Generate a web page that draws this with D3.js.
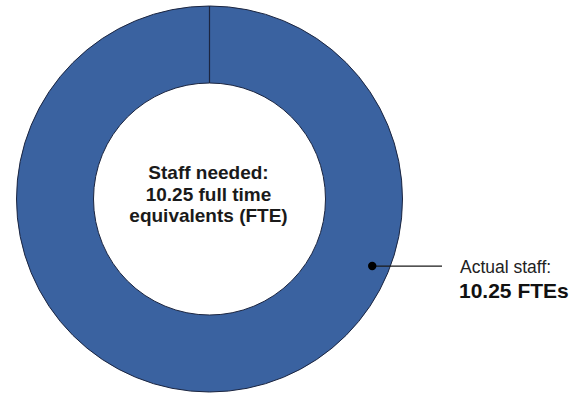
<!DOCTYPE html>
<html><head><meta charset="utf-8">
<script src="https://cdn.jsdelivr.net/npm/d3@7"></script>
<style>
html,body{margin:0;padding:0;background:#fff;}
svg{display:block;font-family:"Liberation Sans",Arial,sans-serif;}
</style></head>
<body><svg id="c" width="579" height="398"></svg>
<script>
const categories = ["Actual staff"];
const values = [10.25];
const neededFTE = 10.25;
const centerLines = ["Staff needed:", "10.25 full time", "equivalents (FTE)"];
const labelLines = ["Actual staff:", "10.25 FTEs"];

const W = 579, H = 398;
const cx = 209.5, cy = 199, R = 193, r = 116;
const svg = d3.select("#c");
const g = svg.append("g").attr("transform", `translate(${cx},${cy})`);

const pie = d3.pie().sort(null).value(d => d);
const arcs = pie(values);
const arc = d3.arc().innerRadius(r).outerRadius(R);

g.selectAll("path.slice").data(arcs).enter().append("path")
  .attr("class","slice")
  .attr("d", arc)
  .attr("fill", "#3a62a0")
  .attr("stroke", "#1b2540")
  .attr("stroke-width", 1);

// seam line at slice start
arcs.forEach(a => {
  const ang = a.startAngle;
  g.append("line")
    .attr("x1", r*Math.sin(ang)).attr("y1", -r*Math.cos(ang))
    .attr("x2", R*Math.sin(ang)).attr("y2", -R*Math.cos(ang))
    .attr("stroke", "#1b2540").attr("stroke-width", 1.2);
});

// center text
const ct = g.append("text").attr("text-anchor","middle")
  .attr("font-weight","bold").attr("font-size","19px").attr("fill","#1a1a1a");
centerLines.forEach((t,i) => {
  ct.append("tspan").attr("x", -1).attr("y", -20 + i*21.5).text(t);
});

// annotation dot + leader
const angScale = d3.scaleLinear().domain([0, neededFTE]).range([0, 2*Math.PI]);
const dotAng = angScale(neededFTE * 0.3122);
const dotR = 176;
const dx = dotR*Math.sin(dotAng), dy = -dotR*Math.cos(dotAng);
g.append("line").attr("x1", dx).attr("y1", dy).attr("x2", 442-cx).attr("y2", dy)
  .attr("stroke","#1a1a1a").attr("stroke-width",1.3);
g.append("circle").attr("cx", dx).attr("cy", dy).attr("r", 4.2).attr("fill","#000");

svg.append("text").attr("x", 460).attr("y", 273).attr("font-size","17.5px").attr("fill","#222")
  .text(labelLines[0]);
svg.append("text").attr("x", 459).attr("y", 298).attr("font-size","21px").attr("font-weight","bold").attr("fill","#111")
  .text(labelLines[1]);
</script></body></html>
